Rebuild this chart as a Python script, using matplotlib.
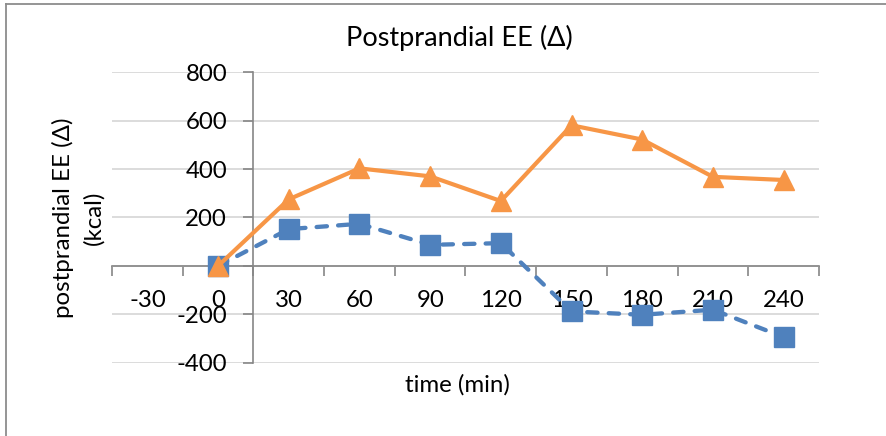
import numpy as np
import matplotlib.pyplot as plt
from matplotlib.lines import Line2D

plt.rcParams['font.family'] = ['Lato', 'DejaVu Sans']
plt.rcParams['axes.unicode_minus'] = False

# time points (min) and change in energy expenditure (kcal)
times = [-30, 0, 30, 60, 90, 120, 150, 180, 210, 240]
ee_orange = [np.nan, 0, 275, 403, 370, 268, 581, 522, 368, 355]
ee_blue = [np.nan, 0, 152, 174, 87, 94, -188, -202, -181, -294]
yticks = [-400, -200, 0, 200, 400, 600, 800]

axis_gray = '#868686'
grid_gray = '#d9d9d9'
orange = '#f79646'
blue = '#4f81bd'
fs = 17.3

fig = plt.figure(figsize=(8.87, 4.36), dpi=100)
ax = fig.add_axes([0.1263, 0.1681, 0.797, 0.6661])

pos = np.arange(len(times))

ax.plot(pos, ee_blue, color=blue, lw=3.1, ls=(0, (2.4, 2.6)),
        dash_capstyle='round', marker='s', ms=14, mec=blue, mfc=blue,
        zorder=3, clip_on=False)
ax.plot(pos, ee_orange, color=orange, lw=3.0, marker='^', ms=15,
        mec=orange, mfc=orange, zorder=4, clip_on=False)

ax.set_xlim(-0.5, len(times) - 0.5)
ax.set_ylim(-400, 800)

# category axis: tick marks between categories, labels centred on them
ax.set_xticks(np.arange(-0.5, len(times), 1.0))
ax.set_xticklabels([])
ax.set_xticks(pos, minor=True)
ax.set_xticklabels([str(t) for t in times], minor=True)
ax.tick_params(axis='x', which='major', length=7, width=1.2,
               direction='out', color=axis_gray)
ax.tick_params(axis='x', which='minor', length=0, pad=17, labelsize=fs)

ax.set_yticks(yticks)
ax.tick_params(axis='y', length=7, width=1.2, direction='out',
               color=axis_gray, pad=12, labelsize=fs)

for side in ('top', 'right'):
    ax.spines[side].set_visible(False)
ax.spines['bottom'].set_position(('data', 0))
ax.spines['left'].set_position(('data', 1.5))
for side in ('bottom', 'left'):
    ax.spines[side].set_color(axis_gray)
    ax.spines[side].set_linewidth(1.2)

ax.yaxis.grid(True, color=grid_gray, lw=1.3)
ax.set_axisbelow(True)

fig.text(459 / 887, 1 - 38 / 436, 'Postprandial EE (Δ)', ha='center',
         va='center', fontsize=19.5)
fig.text(457 / 887, 1 - 385 / 436, 'time (min)', ha='center',
         va='center', fontsize=fs)
fig.text(78 / 887, 1 - 218 / 436, 'postprandial EE (Δ)\n(kcal)',
         ha='center', va='center', rotation=90, fontsize=fs,
         multialignment='center', linespacing=1.5)

# chart area border (left and top edges)
fig.add_artist(Line2D([6.5 / 887, 6.5 / 887], [0, 1 - 4 / 436],
                      color='#8c8c8c', lw=1.3, transform=fig.transFigure))
fig.add_artist(Line2D([6.5 / 887, 1], [1 - 4 / 436, 1 - 4 / 436],
                      color='#8c8c8c', lw=1.3, transform=fig.transFigure))

fig.savefig('out.png', dpi=100)
